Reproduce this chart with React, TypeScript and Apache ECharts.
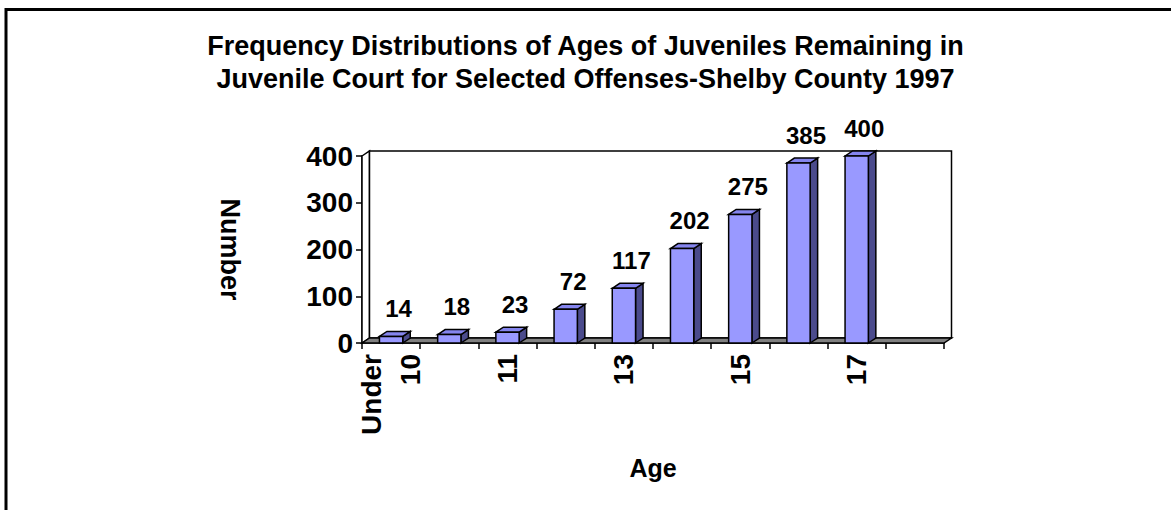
import React, { useEffect, useRef } from "react";
import * as echarts from "echarts";

const categories = ["Under\n10", "10", "11", "12", "13", "14", "15", "16", "17", ""];
const counts: (number | null)[] = [14, 18, 23, 72, 117, 202, 275, 385, 400, null];
const yTicks = { min: 0, max: 400, interval: 100 };

const titleText = "Frequency Distributions of Ages of Juveniles Remaining in\nJuvenile Court for Selected Offenses-Shelby County 1997";
const FONT = '"Liberation Sans", Arial, Helvetica, sans-serif';
const FRONT = "#9999FF";
const SIDE = "#4B4B8C";
const TOPC = "#8585EE";
const DX = 7.5;
const DY = -5;

export default function App() {
  const ref = useRef<HTMLDivElement>(null);
  useEffect(() => {
    document.body.style.margin = "0";
    const chart = echarts.init(ref.current!, null, { renderer: "svg" });
    const barData = counts
      .map((v, i) => (v == null ? null : [i, v]))
      .filter((d) => d != null);
    chart.setOption({
      animation: false,
      backgroundColor: "#ffffff",
      title: {
        text: titleText,
        left: "center",
        top: 24,
        textStyle: { fontFamily: FONT, fontWeight: "bold", fontSize: 27, lineHeight: 33, color: "#000" },
      },
      graphic: [
        { type: "line", shape: { x1: 6, y1: 9.5, x2: 1171, y2: 9.5 }, style: { stroke: "#000", lineWidth: 3 } },
        { type: "line", shape: { x1: 6, y1: 8, x2: 6, y2: 510 }, style: { stroke: "#000", lineWidth: 3 } },
      ],
      grid: { left: 362, top: 156, width: 582, height: 187, containLabel: false },
      xAxis: {
        type: "category",
        data: categories,
        boundaryGap: true,
        name: "Age",
        nameLocation: "middle",
        nameGap: 112,
        nameTextStyle: { fontFamily: FONT, fontWeight: "bold", fontSize: 25, color: "#000" },
        axisLine: { show: true, lineStyle: { color: "#000", width: 1.5 } },
        axisTick: { show: true, interval: 0, length: 6, lineStyle: { color: "#000", width: 1.5 } },
        axisLabel: {
          interval: 1,
          rotate: 90,
          margin: 11,
          fontFamily: FONT,
          fontWeight: "bold",
          fontSize: 28,
          lineHeight: 39,
          color: "#000",
        },
        splitLine: { show: false },
      },
      yAxis: {
        type: "value",
        min: yTicks.min,
        max: yTicks.max,
        interval: yTicks.interval,
        name: "Number",
        nameLocation: "middle",
        nameRotate: -90,
        nameGap: 119,
        nameTextStyle: { fontFamily: FONT, fontWeight: "bold", fontSize: 27, color: "#000" },
        axisLine: { show: true, lineStyle: { color: "#000", width: 1.5 } },
        axisTick: { show: true, length: 6, lineStyle: { color: "#000", width: 1.5 } },
        axisLabel: { margin: 9, fontFamily: FONT, fontWeight: "bold", fontSize: 28, color: "#000" },
        splitLine: { show: false },
      },
      series: [
        {
          type: "custom",
          z: 1,
          silent: true,
          data: [[0, 0]],
          renderItem: (_p: any, api: any) => {
            const bw = api.size([1, 0])[0];
            const b0 = api.coord([0, yTicks.min]);
            const b1 = api.coord([categories.length - 1, yTicks.min]);
            const t0 = api.coord([0, yTicks.max]);
            const x0 = b0[0] - bw / 2;
            const x1 = b1[0] + bw / 2;
            const yb = b0[1];
            const yt = t0[1];
            const st = { stroke: "#000", lineWidth: 1.5 };
            return {
              type: "group",
              children: [
                {
                  type: "polygon",
                  shape: { points: [[x0, yt], [x0 + DX, yt + DY], [x0 + DX, yb + DY], [x0, yb]] },
                  style: { fill: "#fff", ...st },
                },
                {
                  type: "rect",
                  shape: { x: x0 + DX, y: yt + DY, width: x1 - x0, height: yb - yt },
                  style: { fill: "#fff", ...st },
                },
                {
                  type: "polygon",
                  shape: { points: [[x0, yb], [x0 + DX, yb + DY], [x1 + DX, yb + DY], [x1, yb]] },
                  style: { fill: "#808080", ...st },
                },
              ],
            };
          },
        },
        {
          type: "custom",
          z: 3,
          data: barData,
          renderItem: (_p: any, api: any) => {
            const idx = api.value(0);
            const val = api.value(1);
            const base = api.coord([idx, 0]);
            const top = api.coord([idx, val]);
            const bw = api.size([1, 0])[0];
            const w = bw * 0.4;
            const x0 = base[0] - w / 2;
            const x1 = base[0] + w / 2;
            const yb = base[1];
            const yt = top[1];
            const st = { stroke: "#000", lineWidth: 1.5 };
            return {
              type: "group",
              children: [
                {
                  type: "polygon",
                  shape: { points: [[x1, yb], [x1 + DX, yb + DY], [x1 + DX, yt + DY], [x1, yt]] },
                  style: { fill: SIDE, ...st },
                },
                {
                  type: "polygon",
                  shape: { points: [[x0, yt], [x0 + DX, yt + DY], [x1 + DX, yt + DY], [x1, yt]] },
                  style: { fill: TOPC, ...st },
                },
                {
                  type: "rect",
                  shape: { x: x0, y: yt, width: w, height: yb - yt },
                  style: { fill: FRONT, ...st },
                },
                {
                  type: "text",
                  x: base[0] + DX,
                  y: yt + DY - 11,
                  style: {
                    text: String(val),
                    fontFamily: FONT,
                    fontWeight: "bold",
                    fontSize: 24,
                    fill: "#000",
                    align: "center",
                    verticalAlign: "bottom",
                  },
                },
              ],
            };
          },
        },
      ],
    });
    return () => chart.dispose();
  }, []);
  return <div ref={ref} style={{ width: 1171, height: 510 }} />;
}
